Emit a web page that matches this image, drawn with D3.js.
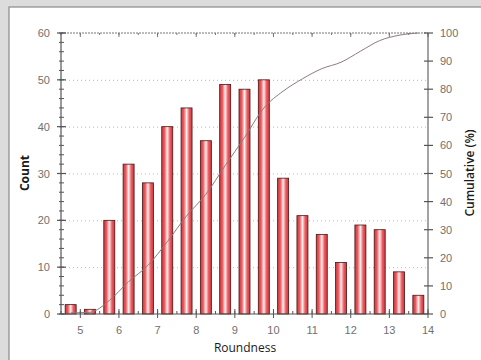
<!DOCTYPE html>
<html>
<head>
<meta charset="utf-8">
<script src="https://cdn.jsdelivr.net/npm/d3@7"></script>
<style>
  body { margin: 0; background: #dcdcdc; }
  svg { display: block; }
</style>
</head>
<body>
<svg id="chart" width="481" height="360"></svg>
<script>
// histogram bins (left edge), counts and cumulative %
let binStart = [4.5, 5, 5.5, 6, 6.5, 7, 7.5, 8, 8.5, 9, 9.5, 10, 10.5, 11, 11.5, 12, 12.5, 13, 13.5];
let counts = [2, 1, 20, 32, 28, 40, 44, 37, 49, 48, 50, 29, 21, 17, 11, 19, 18, 9, 4];
let cumulative = [0.4, 0.6, 4.8, 11.5, 17.3, 25.7, 34.9, 42.6, 52.8, 62.8, 73.3, 79.3, 83.7, 87.3, 89.6, 93.5, 97.3, 99.2, 100];
let xTicks = [5, 6, 7, 8, 9, 10, 11, 12, 13, 14];
let yTicks = [0, 10, 20, 30, 40, 50, 60];
let y2Ticks = [0, 10, 20, 30, 40, 50, 60, 70, 80, 90, 100];
let binWidth = 0.5;

let svg = d3.select("#chart");
let pLeft = 61, pRight = 428, pTop = 33, pBottom = 314;

// panel
svg.append("rect").attr("x", 9).attr("y", 7).attr("width", 480).attr("height", 360)
  .attr("fill", "#fff").attr("stroke", "#8a8a8a").attr("stroke-width", 1.2);

let x = d3.scaleLinear().domain([4.5, 14]).range([pLeft, pRight]);
let y = d3.scaleLinear().domain([0, 60]).range([pBottom, pTop]);
let y2 = d3.scaleLinear().domain([0, 100]).range([pBottom, pTop]);

// gradient for the bars
let grad = svg.append("defs").append("linearGradient").attr("id", "barGrad")
  .attr("x1", "0%").attr("x2", "100%").attr("y1", "0%").attr("y2", "0%");
grad.append("stop").attr("offset", "0%").attr("stop-color", "#c63a3f");
grad.append("stop").attr("offset", "25%").attr("stop-color", "#ee5a5f");
grad.append("stop").attr("offset", "50%").attr("stop-color", "#fff0f0");
grad.append("stop").attr("offset", "75%").attr("stop-color", "#ee5a5f");
grad.append("stop").attr("offset", "100%").attr("stop-color", "#c63a3f");

// grid lines
svg.append("g").selectAll("line").data(yTicks.filter(d => d > 0 && d < 60)).join("line")
  .attr("x1", pLeft).attr("x2", pRight)
  .attr("y1", d => y(d) + 0.5).attr("y2", d => y(d) + 0.5)
  .attr("stroke", "#b8b8b8").attr("stroke-dasharray", "1,3");

// bars
let barW = 11;
svg.append("g").selectAll("rect").data(counts).join("rect")
  .attr("x", (d, i) => x(binStart[i] + binWidth / 2) - barW / 2)
  .attr("y", d => y(d))
  .attr("width", barW)
  .attr("height", d => y(0) - y(d))
  .attr("fill", "url(#barGrad)")
  .attr("stroke", "#4a1414")
  .attr("stroke-width", 0.8);

// cumulative line
let line = d3.line()
  .x((d, i) => x(binStart[i] + binWidth / 2))
  .y(d => y2(d))
  .curve(d3.curveMonotoneX);
svg.append("path").datum(cumulative).attr("d", line)
  .attr("fill", "none").attr("stroke", "#8c7c7c").attr("stroke-width", 1);

// frame: top dashed
svg.append("line").attr("x1", pLeft).attr("x2", pRight).attr("y1", pTop).attr("y2", pTop)
  .attr("stroke", "#777").attr("stroke-dasharray", "2,1");

let axisColor = "#555";
let minorX = d3.range(4.5, 14.01, 0.5);
let minorY = d3.range(0, 60.1, 2);

// bottom axis
let gx = svg.append("g").attr("transform", `translate(0,${pBottom})`);
gx.append("line").attr("x1", pLeft).attr("x2", pRight).attr("stroke", axisColor).attr("stroke-width", 1.2);
gx.selectAll("line.minor").data(minorX).join("line").attr("class", "minor")
  .attr("x1", d => x(d)).attr("x2", d => x(d)).attr("y1", 0).attr("y2", -3).attr("stroke", axisColor);
gx.selectAll("line.major").data(xTicks).join("line").attr("class", "major")
  .attr("x1", d => x(d)).attr("x2", d => x(d)).attr("y1", -5).attr("y2", 4).attr("stroke", axisColor);
gx.selectAll("text").data(xTicks).join("text")
  .attr("x", d => x(d)).attr("y", 20).attr("text-anchor", "middle")
  .attr("font-family", "Liberation Sans, Arial, sans-serif").attr("font-size", 11).attr("fill", "#707070")
  .text(d => d);

// top axis ticks
let gt = svg.append("g").attr("transform", `translate(0,${pTop})`);
gt.selectAll("line.minor").data(minorX).join("line").attr("class", "minor")
  .attr("x1", d => x(d)).attr("x2", d => x(d)).attr("y1", 0).attr("y2", 2).attr("stroke", "#777");
gt.selectAll("line.major").data(xTicks).join("line").attr("class", "major")
  .attr("x1", d => x(d)).attr("x2", d => x(d)).attr("y1", 0).attr("y2", 4).attr("stroke", "#777");

// left axis
let gy = svg.append("g").attr("transform", `translate(${pLeft},0)`);
gy.append("line").attr("y1", pTop).attr("y2", pBottom).attr("stroke", axisColor).attr("stroke-width", 1.2);
gy.selectAll("line.minor").data(minorY).join("line").attr("class", "minor")
  .attr("y1", d => y(d)).attr("y2", d => y(d)).attr("x1", -2).attr("x2", 3).attr("stroke", axisColor);
gy.selectAll("line.major").data(yTicks).join("line").attr("class", "major")
  .attr("y1", d => y(d)).attr("y2", d => y(d)).attr("x1", -4).attr("x2", 5).attr("stroke", axisColor).attr("stroke-width", 1.2);
gy.selectAll("text").data(yTicks).join("text")
  .attr("x", -11).attr("y", d => y(d) + 4).attr("text-anchor", "end")
  .attr("font-family", "Liberation Sans, Arial, sans-serif").attr("font-size", 11).attr("fill", "#707070")
  .text(d => d);

// right axis
let gr = svg.append("g").attr("transform", `translate(${pRight},0)`);
gr.append("line").attr("y1", pTop).attr("y2", pBottom).attr("stroke", "#666").attr("stroke-width", 1.2);
gr.selectAll("line.major").data(y2Ticks).join("line").attr("class", "major")
  .attr("y1", d => y2(d)).attr("y2", d => y2(d)).attr("x1", -4).attr("x2", 5).attr("stroke", "#555").attr("stroke-width", 1.2);
gr.selectAll("text").data(y2Ticks).join("text")
  .attr("x", 12).attr("y", d => y2(d) + 4).attr("text-anchor", "start")
  .attr("font-family", "Liberation Sans, Arial, sans-serif").attr("font-size", 11).attr("fill", "#707070")
  .text(d => d);

// axis titles
svg.append("text").attr("x", 245).attr("y", 352).attr("text-anchor", "middle")
  .attr("font-family", "Open Sans, sans-serif").attr("font-size", 12).attr("fill", "#1a1a1a")
  .text("Roundness");
svg.append("text").attr("transform", "translate(29,173) rotate(-90)").attr("text-anchor", "middle")
  .attr("font-family", "Open Sans, sans-serif").attr("font-size", 12).attr("font-weight", "bold").attr("fill", "#1a1a1a")
  .text("Count");
svg.append("text").attr("transform", "translate(474,173) rotate(-90)").attr("text-anchor", "middle")
  .attr("font-family", "Open Sans, sans-serif").attr("font-size", 12).attr("font-weight", 600).attr("fill", "#1a1a1a")
  .text("Cumulative (%)");
</script>
</body>
</html>
